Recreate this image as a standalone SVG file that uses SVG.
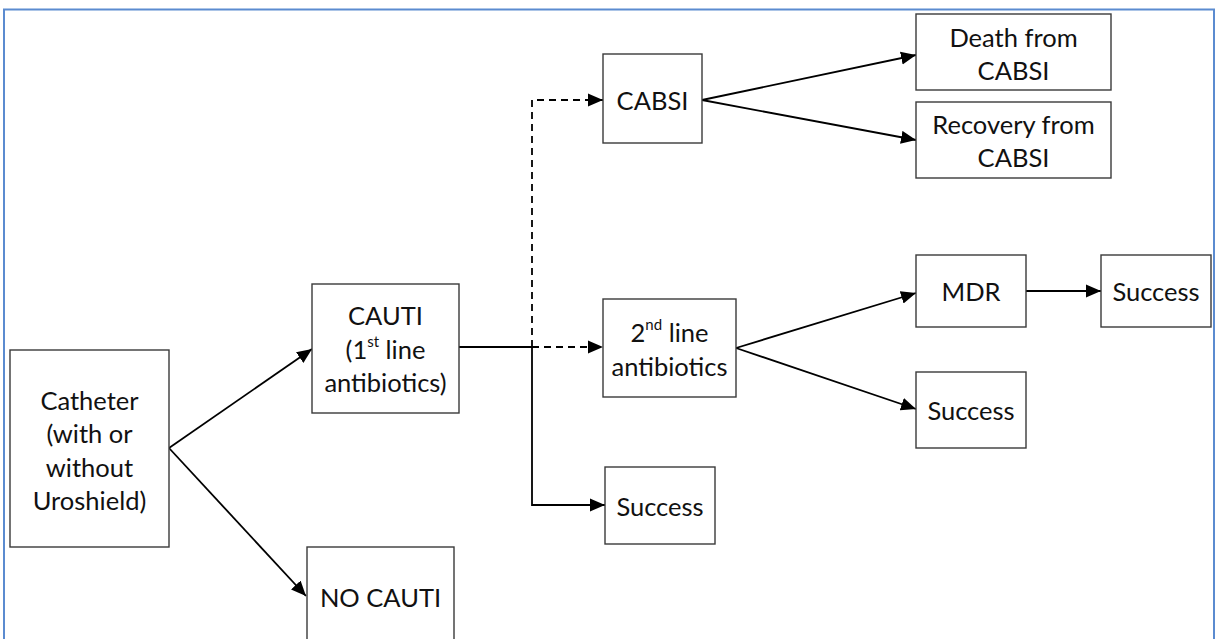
<svg xmlns="http://www.w3.org/2000/svg" width="1218" height="639" viewBox="0 0 1218 639">
<defs>
<style>
.box{fill:#fff;stroke:#3a3a3a;stroke-width:1.4}
.t{font-family:Lato,"Open Sans",sans-serif;font-size:25.5px;fill:#111;text-anchor:middle;dominant-baseline:central}
.sup{font-size:15px}
.c{fill:none;stroke:#000;stroke-width:1.8}
.d{stroke-dasharray:7 5}
</style>
<marker id="ah" markerUnits="userSpaceOnUse" markerWidth="16" markerHeight="14" refX="15" refY="7" orient="auto">
<path d="M0,0.5 L15,7 L0,13.5 Z" fill="#000"/>
</marker>
</defs>
<rect x="0" y="0" width="1218" height="639" fill="#fff"/>
<rect x="4" y="9.5" width="1210" height="650" fill="none" stroke="#5b8bd0" stroke-width="2"/>
<g id="connectors">
<line class="c" x1="169" y1="448" x2="312" y2="349" marker-end="url(#ah)"/>
<line class="c" x1="169" y1="448" x2="306" y2="596" marker-end="url(#ah)"/>
<polyline class="c" points="459,347 532,347 532,505 605,505" marker-end="url(#ah)"/>
<line class="c d" x1="532" y1="347" x2="603" y2="347" marker-end="url(#ah)"/>
<polyline class="c d" points="532,347 532,100 603,100" marker-end="url(#ah)"/>
<line class="c" x1="702" y1="100" x2="916" y2="55" marker-end="url(#ah)"/>
<line class="c" x1="702" y1="100" x2="916" y2="140" marker-end="url(#ah)"/>
<line class="c" x1="736" y1="348" x2="916" y2="293" marker-end="url(#ah)"/>
<line class="c" x1="736" y1="348" x2="916" y2="409" marker-end="url(#ah)"/>
<line class="c" x1="1026" y1="291" x2="1101" y2="291" marker-end="url(#ah)"/>
</g>
<g id="catheter">
<rect class="box" x="10" y="350" width="159" height="197"/>
<text class="t" x="89.5" y="400">Catheter</text>
<text class="t" x="89.5" y="433">(with or</text>
<text class="t" x="89.5" y="467">without</text>
<text class="t" x="89.5" y="500">Uroshield)</text>
</g>
<g id="cauti">
<rect class="box" x="312" y="284" width="147" height="129"/>
<text class="t" x="385.5" y="315">CAUTI</text>
<text class="t" x="385.5" y="349">(1<tspan class="sup" dy="-8">st</tspan><tspan dy="8"> line</tspan></text>
<text class="t" x="385.5" y="382">antibiotics)</text>
</g>
<g id="no-cauti">
<rect class="box" x="307" y="547" width="147" height="110"/>
<text class="t" x="380.5" y="597">NO CAUTI</text>
</g>
<g id="cabsi">
<rect class="box" x="603" y="54" width="99" height="89"/>
<text class="t" x="652.5" y="100">CABSI</text>
</g>
<g id="second-line">
<rect class="box" x="603" y="299" width="133" height="98"/>
<text class="t" x="669.5" y="332">2<tspan class="sup" dy="-8">nd</tspan><tspan dy="8"> line</tspan></text>
<text class="t" x="669.5" y="366">antibiotics</text>
</g>
<g id="success-1">
<rect class="box" x="605" y="467" width="110" height="77"/>
<text class="t" x="660" y="506">Success</text>
</g>
<g id="death">
<rect class="box" x="916" y="14" width="195" height="76"/>
<text class="t" x="1013.5" y="37">Death from</text>
<text class="t" x="1013.5" y="70">CABSI</text>
</g>
<g id="recovery">
<rect class="box" x="916" y="102" width="195" height="76"/>
<text class="t" x="1013.5" y="124">Recovery from</text>
<text class="t" x="1013.5" y="157">CABSI</text>
</g>
<g id="mdr">
<rect class="box" x="916" y="255" width="110" height="72"/>
<text class="t" x="971" y="291">MDR</text>
</g>
<g id="success-mdr">
<rect class="box" x="1101" y="255" width="110" height="72"/>
<text class="t" x="1156" y="291">Success</text>
</g>
<g id="success-2">
<rect class="box" x="916" y="372" width="110" height="76"/>
<text class="t" x="971" y="410">Success</text>
</g>
</svg>
